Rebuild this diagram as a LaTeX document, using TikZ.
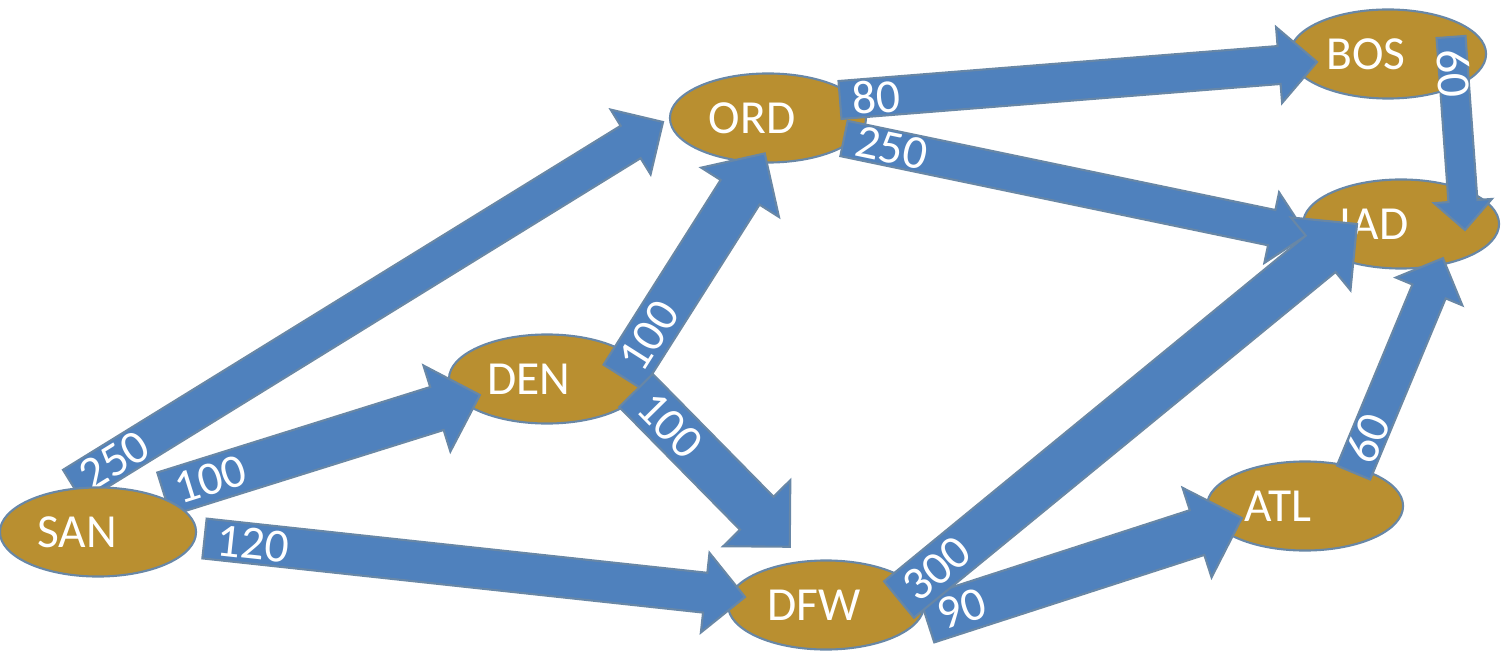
\documentclass[tikz,border=0pt]{standalone}
\usepackage{fontspec}
\setmainfont{Carlito}
\usetikzlibrary{shapes.geometric,calc}

\definecolor{gold}{RGB}{185,143,48}
\definecolor{flowblue}{RGB}{79,129,189}
\definecolor{rim}{RGB}{104,135,166}

\pgfdeclarelayer{front}
\pgfsetlayers{main,front}

\tikzset{
  x=0.01cm, y=-0.01cm,
  labelfont/.style={font=\fontsize{13.5pt}{16pt}\selectfont},
  city/.style={ellipse, draw=rim, line width=0.6pt, fill=gold,
    minimum width=1.96cm, minimum height=0.89cm, inner sep=0pt,
    text=white, labelfont},
  flow/.style={draw=rim, line width=0.6pt, fill=flowblue, line join=miter},
  flowlabel/.style={text=white, labelfont, inner sep=0pt, anchor=west, transform shape},
}

% city name set off-centre inside its ellipse (#1 = shift in px)
\newcommand\cityname[2]{\hbox to 0pt{\hss\kern#1\dimexpr0.56906pt\relax #2\hss}}

% block arrow from tail #1 to tip #2, shaft width #3 px, label #4 near the tail
\newcommand\flowarrow[4]{%
  \path let \p1=(#1), \p2=(#2),
    \n1={atan2(\y2-\y1,\x2-\x1)}, \n2={veclen(\x2-\x1,\y2-\y1)} in
    \pgfextra{\xdef\farawang{\n1}\xdef\farawlen{\n2}};
  \pgfmathsetmacro\faang{\farawang}%
  \pgfmathsetmacro\falen{\farawlen}%
  \pgfmathsetmacro\fas{#3*0.28453}%
  \pgfmathsetmacro\fahalf{\fas/2}%
  \pgfmathsetmacro\fabase{\falen-\fas}%
  \begin{scope}[shift={(#1)}, rotate=\faang]
    \draw[flow] (0pt,-\fahalf pt) -- (\fabase pt,-\fahalf pt) -- (\fabase pt,-\fas pt)
      -- (\falen pt,0pt) -- (\fabase pt,\fas pt) -- (\fabase pt,\fahalf pt)
      -- (0pt,\fahalf pt) -- cycle;
    \node[flowlabel] at (3.4pt,0pt) {#4};
  \end{scope}
}

\begin{document}
\begin{tikzpicture}
\useasboundingbox (0,0) rectangle (1501,655);

% airports
\begin{pgfonlayer}{front}
  \node[city] (SAN) at (98,532) {\cityname{-21}{SAN}};
\end{pgfonlayer}
\node[city] (DEN) at (547,379) {\cityname{-18}{DEN}};
\node[city] (ORD) at (768,118) {\cityname{-16}{ORD}};
\node[city] (BOS) at (1388,54) {\cityname{-22}{BOS}};
\node[city] (IAD) at (1401,224) {\cityname{-27}{IAD}};
\node[city] (DFW) at (826,605) {\cityname{-12}{DFW}};
\node[city] (ATL) at (1305,506) {\cityname{-27}{ATL}};

% arrow tails and tips
\coordinate (SANORDt) at ($(SAN)+(-25,-46)$);
\coordinate (SANORDh) at ($(ORD)+(-105,4)$);
\coordinate (SANDENt) at ($(SAN)+(66,-38)$);
\coordinate (SANDENh) at ($(DEN)+(-67,16)$);
\coordinate (SANDFWt) at ($(SAN)+(106.5,6.5)$);
\coordinate (SANDFWh) at ($(DFW)+(-81,-8)$);
\coordinate (DENORDt) at ($(DEN)+(76,-2)$);
\coordinate (DENORDh) at ($(ORD)+(-3,35)$);
\coordinate (DENDFWt) at ($(DEN)+(89,11.5)$);
\coordinate (DENDFWh) at ($(DFW)+(-36,-58)$);
\coordinate (ORDBOSt) at ($(ORD)+(72,-18)$);
\coordinate (ORDBOSh) at ($(BOS)+(-71,8)$);
\coordinate (ORDIADt) at ($(ORD)+(76,20.5)$);
\coordinate (ORDIADh) at ($(IAD)+(-94,11)$);
\coordinate (BOSIADt) at ($(BOS)+(63,-17)$);
\coordinate (BOSIADh) at ($(IAD)+(64,6)$);
\coordinate (DFWATLt) at ($(DFW)+(101,15)$);
\coordinate (DFWATLh) at ($(ATL)+(-63,12)$);
\coordinate (DFWIADt) at ($(DFW)+(73,-5.5)$);
\coordinate (DFWIADh) at ($(IAD)+(-44,0)$);
\coordinate (ATLIADt) at ($(ATL)+(48.5,-33.5)$);
\coordinate (ATLIADh) at ($(IAD)+(42,34)$);

% flows
\flowarrow{SANORDt}{SANORDh}{38}{250}
\flowarrow{SANDENt}{SANDENh}{45}{100}
\flowarrow{SANDFWt}{SANDFWh}{40}{120}
\flowarrow{DENORDt}{DENORDh}{46}{100}
\flowarrow{DENDFWt}{DENDFWh}{47}{100}
\flowarrow{ORDBOSt}{ORDBOSh}{38}{80}
\flowarrow{ORDIADt}{ORDIADh}{36}{250}
\flowarrow{BOSIADt}{BOSIADh}{29}{60}
\flowarrow{DFWATLt}{DFWATLh}{47}{90}
\flowarrow{DFWIADt}{DFWIADh}{47}{300}
\flowarrow{ATLIADt}{ATLIADh}{36}{60}
\end{tikzpicture}
\end{document}
